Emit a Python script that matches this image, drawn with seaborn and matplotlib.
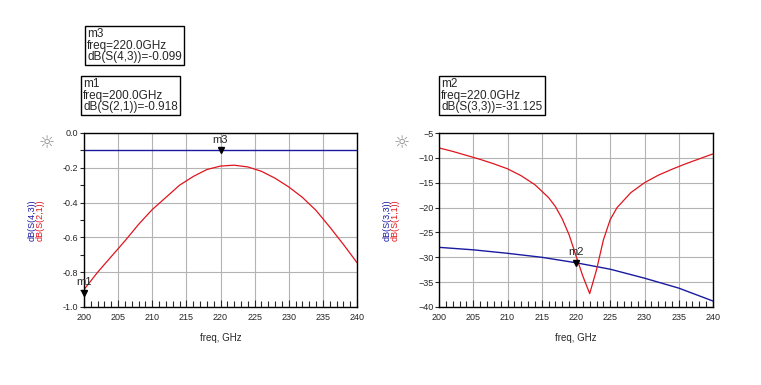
import numpy as np
import pandas as pd
import matplotlib
matplotlib.use('Agg')
import matplotlib.pyplot as plt
import seaborn as sns
from matplotlib.ticker import MultipleLocator

# S(2,1) / S(4,3) panel
freq_21 = [200, 202, 204, 206, 208, 210, 212, 214, 216, 218, 220,
           222, 224, 226, 228, 230, 232, 234, 236, 238, 240]
s21 = [-0.90, -0.80, -0.71, -0.62, -0.525, -0.44, -0.37, -0.30, -0.25, -0.21, -0.19,
       -0.185, -0.195, -0.22, -0.26, -0.31, -0.37, -0.445, -0.54, -0.64, -0.745]
freq_43 = [200, 240]
s43 = [-0.099, -0.099]

# S(1,1) / S(3,3) panel
freq_11 = [200, 202, 204, 206, 208, 210, 212, 214, 216, 217, 218, 219, 220,
           221, 222, 223, 224, 225, 226, 228, 230, 232, 234, 236, 238, 240]
s11 = [-8.0, -8.7, -9.5, -10.3, -11.2, -12.2, -13.6, -15.4, -18.0, -19.8, -22.3, -25.5, -29.7,
       -33.8, -37.3, -32.5, -26.5, -22.4, -20.0, -17.0, -15.0, -13.5, -12.3, -11.2, -10.2, -9.2]
freq_33 = [200, 205, 210, 215, 220, 225, 230, 235, 240]
s33 = [-28.0, -28.5, -29.2, -30.0, -31.1, -32.4, -34.2, -36.2, -38.8]

# markers: name, freq, value, text
markers_left = [('m3', 220, -0.099, 'm3\nfreq=220.0GHz\ndB(S(4,3))=-0.099'),
                ('m1', 200, -0.918, 'm1\nfreq=200.0GHz\ndB(S(2,1))=-0.918')]
markers_right = [('m2', 220, -31.125, 'm2\nfreq=220.0GHz\ndB(S(3,3))=-31.125')]

sns.set_style('white')
plt.rcParams['font.family'] = ['Liberation Sans', 'DejaVu Sans']

red = '#e0141e'
blue = '#1a1aa0'

fig = plt.figure(figsize=(7.61, 3.85), dpi=100)
ax1 = fig.add_axes([84/761, 1-307/385, 273/761, 174/385])
ax2 = fig.add_axes([439/761, 1-307/385, 274/761, 174/385])

df21 = pd.DataFrame({'freq': freq_21, 'val': s21})
df43 = pd.DataFrame({'freq': freq_43, 'val': s43})
df11 = pd.DataFrame({'freq': freq_11, 'val': s11})
df33 = pd.DataFrame({'freq': freq_33, 'val': s33})

sns.lineplot(data=df43, x='freq', y='val', ax=ax1, color=blue, linewidth=1)
sns.lineplot(data=df21, x='freq', y='val', ax=ax1, color=red, linewidth=0.9)
sns.lineplot(data=df33, x='freq', y='val', ax=ax2, color=blue, linewidth=1)
sns.lineplot(data=df11, x='freq', y='val', ax=ax2, color=red, linewidth=0.9)

ax1.set_ylim(-1.0, 0.0)
ax1.yaxis.set_major_locator(MultipleLocator(0.2))
ax1.yaxis.set_minor_locator(MultipleLocator(0.1))
ax1.set_yticklabels([f'{v:.1f}' for v in ax1.get_yticks()])
ax2.set_ylim(-40, -5)
ax2.yaxis.set_major_locator(MultipleLocator(5))

for ax, lab_top, lab_bot in [(ax1, 'dB(S(4,3))', 'dB(S(2,1))'), (ax2, 'dB(S(3,3))', 'dB(S(1,1))')]:
    ax.set_xlim(200, 240)
    ax.xaxis.set_major_locator(MultipleLocator(5))
    ax.xaxis.set_minor_locator(MultipleLocator(1))
    ax.grid(True, which='major', color='#b4b4b4', linewidth=0.8)
    ax.set_axisbelow(True)
    for sp in ax.spines.values():
        sp.set_color('black')
        sp.set_linewidth(1)
    ax.tick_params(axis='x', which='both', direction='in', bottom=True, length=4, width=0.8,
                   labelsize=6.5, pad=4)
    ax.tick_params(axis='x', which='major', length=5)
    ax.tick_params(axis='y', which='both', direction='out', left=True, length=3, width=0.8,
                   labelsize=6.5, pad=1)
    ax.set_xlabel('freq, GHz', fontsize=7, labelpad=8)
    ax.set_ylabel('')
    pos = ax.get_position()
    fig.text(pos.x0 - 52/761, pos.y0 + pos.height*0.5, lab_top, color=blue, rotation=90,
             fontsize=6.5, ha='center', va='center')
    fig.text(pos.x0 - 44/761, pos.y0 + pos.height*0.5, lab_bot, color=red, rotation=90,
             fontsize=6.5, ha='center', va='center')
    fig.text(pos.x0 - 37/761, pos.y1 - 10/385, '\u263c', color='#909090', fontsize=13,
             ha='center', va='center', family='DejaVu Sans')

# marker triangles and labels
for ax, mk in [(ax1, markers_left), (ax2, markers_right)]:
    for name, f, v, _ in mk:
        ax.plot([f], [v], marker='v', color='black', markersize=5, clip_on=False, zorder=5)
        ax.annotate(name, (f, v), xytext=(0, 4), textcoords='offset points',
                    ha='center', va='bottom', fontsize=8, annotation_clip=False)

box = dict(boxstyle='square,pad=0.2', fc='white', ec='black', lw=1)
fig.text(87/761, 1-28/385, markers_left[0][3], fontsize=8.5, va='top', ha='left',
         linespacing=0.95, bbox=box)
fig.text(83/761, 1-78/385, markers_left[1][3], fontsize=8.5, va='top', ha='left',
         linespacing=0.95, bbox=box)
fig.text(441/761, 1-78/385, markers_right[0][3], fontsize=8.5, va='top', ha='left',
         linespacing=0.95, bbox=box)

fig.savefig('out.png', dpi=100)
